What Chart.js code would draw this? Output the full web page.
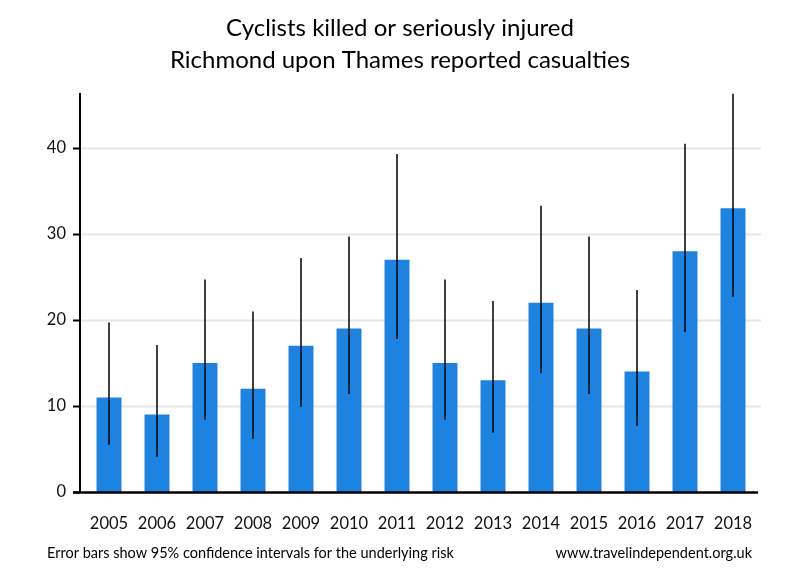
<!DOCTYPE html>
<html>
<head>
<meta charset="utf-8">
<script src="https://cdn.jsdelivr.net/npm/chart.js@4"></script>
<style>
  html, body { margin: 0; padding: 0; background: #fff; }
  #wrap { width: 800px; height: 580px; position: relative; }
</style>
</head>
<body>
<div id="wrap"><canvas id="casualtyChart" width="800" height="580"></canvas></div>
<script>
const years = ['2005', '2006', '2007', '2008', '2009', '2010', '2011', '2012', '2013', '2014', '2015', '2016', '2017', '2018'];
const casualties = [11, 9, 15, 12, 17, 19, 27, 15, 13, 22, 19, 14, 28, 33];
// 95% confidence interval ends
const lowerCI = [5.5, 4.1, 8.4, 6.2, 9.9, 11.4, 17.8, 8.4, 6.9, 13.8, 11.4, 7.7, 18.6, 22.7];
const upperCI = [19.7, 17.1, 24.7, 21.0, 27.2, 29.7, 39.3, 24.7, 22.2, 33.3, 29.7, 23.5, 40.5, 46.3];
const yTicks = [0, 10, 20, 30, 40];

const titleLines = ['Cyclists killed or seriously injured', 'Richmond upon Thames reported casualties'];
const footLeft = 'Error bars show 95% confidence intervals for the underlying risk';
const footRight = 'www.travelindependent.org.uk';

const fontFamily = 'Lato, "Open Sans", sans-serif';

// gridlines, axis lines, error bars and the text around the plot
const decorPlugin = {
    id: 'decor',
    beforeDatasetsDraw(chart) {
        const ctx = chart.ctx;
        const area = chart.chartArea;
        const y = chart.scales.y;
        ctx.save();
        ctx.strokeStyle = '#e6e6e6';
        ctx.lineWidth = 2;
        yTicks.forEach(v => {
            if (v === 0) return;
            const py = Math.round(y.getPixelForValue(v)) + 0.5;
            ctx.beginPath();
            ctx.moveTo(area.left - 5, py);
            ctx.lineTo(area.right + 4, py);
            ctx.stroke();
        });
        ctx.restore();
    },
    afterDatasetsDraw(chart) {
        const ctx = chart.ctx;
        const area = chart.chartArea;
        const x = chart.scales.x;
        const y = chart.scales.y;
        ctx.save();

        // error bars
        ctx.strokeStyle = '#000';
        ctx.lineWidth = 1.5;
        ctx.beginPath();
        ctx.rect(area.left - 10, area.top, area.right - area.left + 20, area.bottom - area.top);
        ctx.clip();
        years.forEach((yr, i) => {
            const px = x.getPixelForValue(i);
            ctx.beginPath();
            ctx.moveTo(px, y.getPixelForValue(lowerCI[i]));
            ctx.lineTo(px, y.getPixelForValue(upperCI[i]));
            ctx.stroke();
        });
        ctx.restore();

        ctx.save();
        // axes
        const axisX = area.left - 5;
        ctx.strokeStyle = '#000';
        ctx.lineWidth = 2;
        ctx.beginPath();
        ctx.moveTo(axisX, area.top);
        ctx.lineTo(axisX, area.bottom);
        ctx.stroke();
        yTicks.forEach(v => {
            const py = Math.round(y.getPixelForValue(v)) + 0.5;
            ctx.beginPath();
            ctx.moveTo(axisX - 7, py);
            ctx.lineTo(axisX, py);
            ctx.stroke();
        });
        ctx.lineWidth = 2.5;
        ctx.beginPath();
        ctx.moveTo(axisX - 7, area.bottom + 0.5);
        ctx.lineTo(area.right + 1, area.bottom + 0.5);
        ctx.stroke();

        // titles and footer
        ctx.fillStyle = '#000';
        ctx.textAlign = 'center';
        ctx.textBaseline = 'middle';
        ctx.font = '24px ' + fontFamily;
        ctx.fillText(titleLines[0], 400, 28);
        ctx.fillText(titleLines[1], 400, 60);

        ctx.font = '14.5px ' + fontFamily;
        ctx.textBaseline = 'alphabetic';
        ctx.textAlign = 'left';
        ctx.fillText(footLeft, 47, 558);
        ctx.textAlign = 'right';
        ctx.fillText(footRight, 752, 558);
        ctx.restore();
    }
};

const ctx = document.getElementById('casualtyChart').getContext('2d');
const chart = new Chart(ctx, {
    type: 'bar',
    data: {
        labels: years,
        datasets: [{
            label: 'Casualties',
            data: casualties,
            backgroundColor: '#1c83e1',
            borderWidth: 0,
            barPercentage: 0.52,
            categoryPercentage: 1.0
        }]
    },
    options: {
        responsive: false,
        animation: false,
        devicePixelRatio: 1,
        layout: {
            padding: { top: 93, right: 43, left: 0, bottom: 0 }
        },
        plugins: {
            legend: { display: false },
            tooltip: { enabled: false }
        },
        scales: {
            x: {
                grid: { display: false, drawTicks: false },
                border: { display: false },
                ticks: {
                    color: '#111',
                    font: { family: fontFamily, size: 16.5 },
                    padding: 22,
                    maxRotation: 0,
                    autoSkip: false
                },
                afterFit(scale) { scale.height = 88; }
            },
            y: {
                min: 0,
                max: 46.4,
                grid: { display: false, drawTicks: false },
                border: { display: false },
                afterBuildTicks(scale) {
                    scale.ticks = yTicks.map(v => ({ value: v }));
                },
                ticks: {
                    color: '#111',
                    font: { family: fontFamily, size: 16.5 },
                    padding: 19
                },
                afterFit(scale) { scale.width = 85; }
            }
        }
    },
    plugins: [decorPlugin]
});
</script>
</body>
</html>
